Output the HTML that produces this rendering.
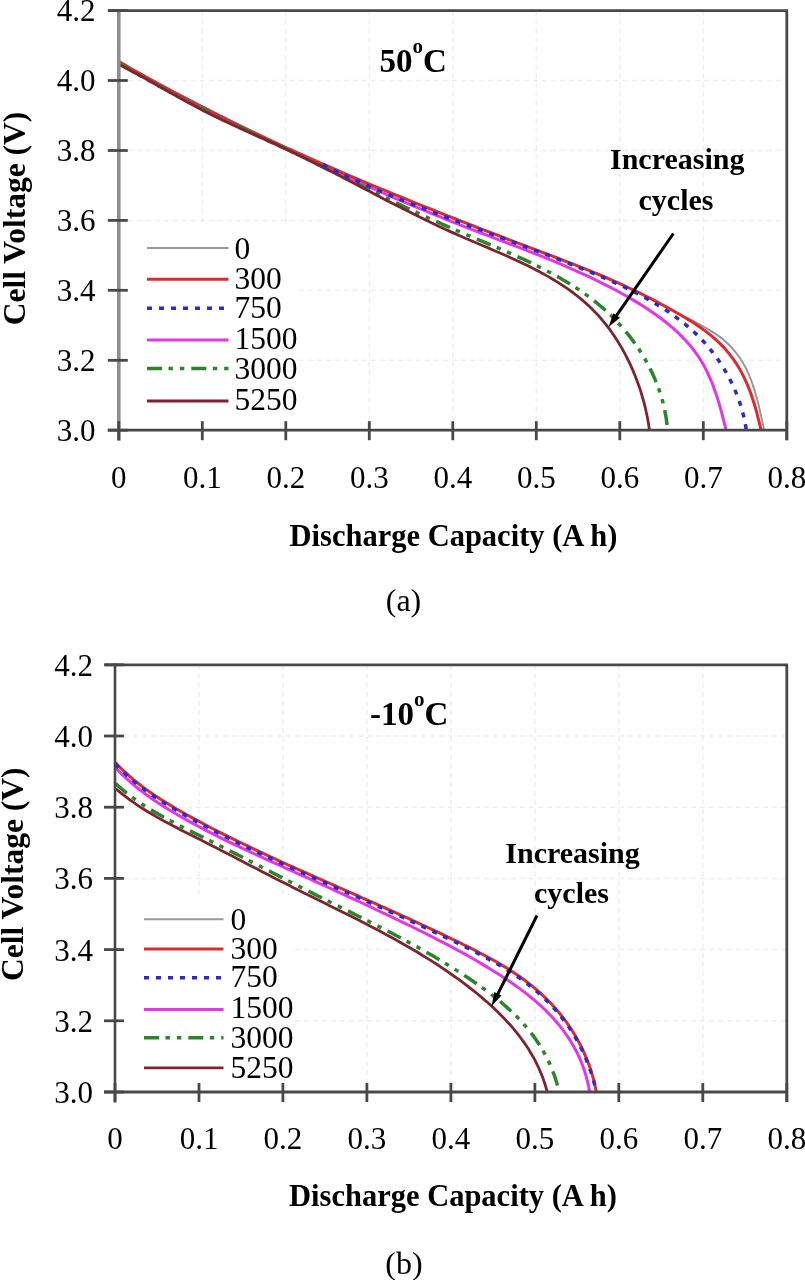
<!DOCTYPE html>
<html><head><meta charset="utf-8"><style>
html,body{margin:0;padding:0;background:#fff;width:805px;height:1280px;overflow:hidden;font-family:"Liberation Serif",serif;}
svg{display:block;filter:blur(0.7px);}
</style></head><body>
<svg width="805" height="1280" viewBox="0 0 805 1280">
<rect width="805" height="1280" fill="#fff"/>
<line x1="202.3" y1="10.6" x2="202.3" y2="430.2" stroke="#efefef" stroke-width="1.5" stroke-dasharray="5,4"/>
<line x1="285.8" y1="10.6" x2="285.8" y2="430.2" stroke="#efefef" stroke-width="1.5" stroke-dasharray="5,4"/>
<line x1="369.3" y1="10.6" x2="369.3" y2="430.2" stroke="#efefef" stroke-width="1.5" stroke-dasharray="5,4"/>
<line x1="452.8" y1="10.6" x2="452.8" y2="430.2" stroke="#efefef" stroke-width="1.5" stroke-dasharray="5,4"/>
<line x1="536.3" y1="10.6" x2="536.3" y2="430.2" stroke="#efefef" stroke-width="1.5" stroke-dasharray="5,4"/>
<line x1="619.8" y1="10.6" x2="619.8" y2="430.2" stroke="#efefef" stroke-width="1.5" stroke-dasharray="5,4"/>
<line x1="703.3" y1="10.6" x2="703.3" y2="430.2" stroke="#efefef" stroke-width="1.5" stroke-dasharray="5,4"/>
<line x1="118.8" y1="80.5" x2="786.8" y2="80.5" stroke="#efefef" stroke-width="1.5" stroke-dasharray="5,4"/>
<line x1="118.8" y1="150.5" x2="786.8" y2="150.5" stroke="#efefef" stroke-width="1.5" stroke-dasharray="5,4"/>
<line x1="118.8" y1="220.4" x2="786.8" y2="220.4" stroke="#efefef" stroke-width="1.5" stroke-dasharray="5,4"/>
<line x1="118.8" y1="290.3" x2="786.8" y2="290.3" stroke="#efefef" stroke-width="1.5" stroke-dasharray="5,4"/>
<line x1="118.8" y1="360.3" x2="786.8" y2="360.3" stroke="#efefef" stroke-width="1.5" stroke-dasharray="5,4"/>
<line x1="199.0" y1="664.8" x2="199.0" y2="1092.0" stroke="#efefef" stroke-width="1.5" stroke-dasharray="5,4"/>
<line x1="282.9" y1="664.8" x2="282.9" y2="1092.0" stroke="#efefef" stroke-width="1.5" stroke-dasharray="5,4"/>
<line x1="366.9" y1="664.8" x2="366.9" y2="1092.0" stroke="#efefef" stroke-width="1.5" stroke-dasharray="5,4"/>
<line x1="450.9" y1="664.8" x2="450.9" y2="1092.0" stroke="#efefef" stroke-width="1.5" stroke-dasharray="5,4"/>
<line x1="534.9" y1="664.8" x2="534.9" y2="1092.0" stroke="#efefef" stroke-width="1.5" stroke-dasharray="5,4"/>
<line x1="618.8" y1="664.8" x2="618.8" y2="1092.0" stroke="#efefef" stroke-width="1.5" stroke-dasharray="5,4"/>
<line x1="702.8" y1="664.8" x2="702.8" y2="1092.0" stroke="#efefef" stroke-width="1.5" stroke-dasharray="5,4"/>
<line x1="115.0" y1="736.0" x2="786.8" y2="736.0" stroke="#efefef" stroke-width="1.5" stroke-dasharray="5,4"/>
<line x1="115.0" y1="807.2" x2="786.8" y2="807.2" stroke="#efefef" stroke-width="1.5" stroke-dasharray="5,4"/>
<line x1="115.0" y1="878.4" x2="786.8" y2="878.4" stroke="#efefef" stroke-width="1.5" stroke-dasharray="5,4"/>
<line x1="115.0" y1="949.6" x2="786.8" y2="949.6" stroke="#efefef" stroke-width="1.5" stroke-dasharray="5,4"/>
<line x1="115.0" y1="1020.8" x2="786.8" y2="1020.8" stroke="#efefef" stroke-width="1.5" stroke-dasharray="5,4"/>
<rect x="126" y="226" width="172" height="196" fill="#fff"/>
<rect x="122" y="896" width="173" height="187" fill="#fff"/>
<path d="M119.0,63.0 L120.8,64.0 L122.6,65.0 L124.4,66.1 L126.2,67.1 L128.1,68.1 L129.9,69.1 L131.7,70.1 L133.5,71.2 L135.3,72.2 L137.1,73.2 L138.9,74.2 L140.8,75.2 L142.6,76.2 L144.4,77.2 L146.2,78.2 L148.0,79.2 L149.9,80.2 L151.7,81.2 L153.5,82.2 L155.3,83.2 L157.2,84.2 L159.0,85.2 L160.8,86.2 L162.7,87.2 L164.5,88.1 L166.3,89.1 L168.1,90.1 L170.0,91.1 L171.8,92.1 L173.6,93.0 L175.5,94.0 L177.3,95.0 L179.2,96.0 L181.0,96.9 L182.8,97.9 L184.7,98.9 L186.5,99.8 L188.4,100.8 L190.2,101.8 L192.0,102.7 L193.9,103.7 L195.7,104.6 L197.6,105.6 L199.4,106.5 L201.3,107.5 L203.1,108.4 L205.0,109.4 L206.8,110.3 L208.7,111.3 L210.5,112.2 L212.4,113.1 L214.2,114.1 L216.1,115.0 L217.9,116.0 L219.8,116.9 L221.6,117.8 L223.5,118.7 L225.4,119.7 L227.2,120.6 L229.1,121.5 L230.9,122.5 L232.8,123.4 L234.7,124.3 L236.5,125.2 L238.4,126.1 L240.2,127.0 L242.1,128.0 L244.0,128.9 L245.8,129.8 L247.7,130.7 L249.6,131.6 L251.4,132.5 L253.3,133.4 L255.2,134.3 L257.1,135.2 L258.9,136.1 L260.8,137.0 L262.7,137.9 L264.5,138.8 L266.4,139.7 L268.3,140.6 L270.2,141.5 L272.0,142.4 L273.9,143.3 L275.8,144.2 L277.7,145.1 L279.6,145.9 L281.4,146.8 L283.3,147.7 L285.2,148.6 L287.1,149.5 L289.0,150.3 L290.8,151.2 L292.7,152.1 L294.6,153.0 L296.5,153.8 L298.4,154.7 L300.3,155.6 L302.2,156.5 L304.0,157.3 L305.9,158.2 L307.8,159.0 L309.7,159.9 L311.6,160.8 L313.5,161.6 L315.4,162.5 L317.3,163.4 L319.2,164.2 L321.1,165.1 L323.0,165.9 L324.8,166.8 L326.7,167.6 L328.6,168.5 L330.5,169.3 L332.4,170.2 L334.3,171.0 L336.2,171.9 L338.1,172.7 L340.0,173.5" fill="none" stroke="#2a2ad0" stroke-width="3.5" stroke-dasharray="5,7" stroke-linejoin="round"/>
<path d="M119.0,62.6 L124.4,65.6 L129.8,68.5 L135.2,71.5 L140.6,74.4 L146.1,77.3 L151.5,80.2 L156.9,83.1 L162.4,86.0 L167.8,88.9 L173.2,91.8 L178.7,94.6 L184.2,97.5 L189.6,100.3 L195.1,103.2 L200.6,106.0 L206.0,108.8 L211.5,111.6 L217.0,114.4 L222.5,117.2 L228.0,120.0 L233.5,122.8 L239.0,125.6 L244.5,128.3 L250.0,131.0 L255.5,133.8 L261.1,136.5 L266.6,139.2 L272.1,141.9 L277.7,144.6 L283.2,147.3 L288.8,149.9 L294.3,152.6 L299.9,155.2 L305.5,157.9 L311.0,160.5 L316.6,163.1 L322.2,165.7 L327.8,168.3 L333.4,170.9 L339.0,173.4 L344.6,176.0 L350.2,178.5 L355.8,181.0 L361.5,183.5 L367.1,186.0 L372.7,188.5 L378.4,191.0 L384.0,193.4 L389.7,195.9 L395.4,198.3 L401.0,200.7 L406.7,203.1 L412.4,205.5 L418.1,207.9 L423.8,210.2 L429.5,212.6 L435.2,214.9 L440.9,217.2 L446.6,219.5 L452.3,221.8 L458.1,224.1 L463.8,226.3 L469.5,228.6 L475.3,230.8 L481.0,233.0 L486.8,235.2 L492.6,237.4 L498.3,239.6 L504.1,241.8 L509.9,244.0 L515.6,246.2 L521.4,248.4 L527.1,250.6 L532.8,252.8 L538.6,255.1 L544.3,257.4 L550.0,259.7 L555.7,262.1 L561.3,264.4 L567.0,266.9 L572.6,269.3 L578.2,271.8 L583.8,274.3 L589.4,276.9 L594.9,279.6 L600.4,282.3 L605.9,285.1 L611.4,287.9 L616.8,290.8 L622.2,293.7 L627.6,296.8 L632.9,299.9 L638.2,303.1 L643.4,306.3 L648.6,309.7 L653.7,313.2 L658.7,316.8 L663.6,320.5 L668.4,324.3 L673.1,328.2 L677.6,332.3 L681.9,336.6 L686.1,341.0 L690.1,345.6 L693.9,350.3 L697.5,355.2 L700.8,360.3 L703.9,365.6 L706.8,371.1 L709.4,376.8 L711.9,382.5 L714.1,388.4 L716.2,394.4 L718.1,400.3 L719.9,406.4 L721.6,412.4 L723.1,418.3 L724.6,424.2 L726.0,430.0" fill="none" stroke="#e535ea" stroke-width="3.0" stroke-linejoin="round"/>
<path d="M119.0,61.6 L124.6,64.9 L130.2,68.1 L135.8,71.3 L141.5,74.5 L147.1,77.6 L152.8,80.7 L158.4,83.9 L164.1,86.9 L169.8,90.0 L175.5,93.1 L181.2,96.1 L186.9,99.1 L192.6,102.1 L198.4,105.0 L204.1,108.0 L209.9,110.9 L215.6,113.8 L221.4,116.7 L227.2,119.6 L233.0,122.4 L238.8,125.2 L244.6,128.0 L250.4,130.8 L256.2,133.6 L262.0,136.4 L267.9,139.1 L273.7,141.9 L279.6,144.6 L285.4,147.3 L291.3,150.0 L297.2,152.6 L303.1,155.3 L309.0,157.9 L314.9,160.5 L320.8,163.2 L326.7,165.8 L332.6,168.3 L338.5,170.9 L344.4,173.5 L350.4,176.0 L356.3,178.5 L362.3,181.1 L368.2,183.6 L374.2,186.1 L380.1,188.5 L386.1,191.0 L392.1,193.5 L398.0,195.9 L404.0,198.4 L410.0,200.8 L416.0,203.2 L422.0,205.6 L428.0,208.0 L433.9,210.4 L440.0,212.8 L446.0,215.2 L452.0,217.5 L458.0,219.9 L464.0,222.3 L470.0,224.6 L476.0,226.9 L482.0,229.3 L488.1,231.6 L494.1,233.9 L500.1,236.2 L506.1,238.5 L512.2,240.8 L518.2,243.1 L524.2,245.4 L530.3,247.7 L536.3,250.0 L542.3,252.2 L548.4,254.5 L554.4,256.8 L560.4,259.1 L566.4,261.4 L572.4,263.8 L578.4,266.1 L584.4,268.5 L590.4,270.9 L596.3,273.4 L602.3,275.9 L608.2,278.5 L614.1,281.1 L619.9,283.7 L625.8,286.5 L631.6,289.3 L637.4,292.2 L643.1,295.1 L648.8,298.1 L654.6,301.1 L660.3,304.2 L666.0,307.2 L671.8,310.2 L677.5,313.2 L683.3,316.1 L689.1,319.0 L694.9,321.9 L700.6,324.9 L706.2,328.0 L711.7,331.3 L717.0,334.8 L722.0,338.6 L726.8,342.7 L731.2,347.0 L735.3,351.8 L739.1,356.8 L742.6,362.1 L745.6,367.8 L748.4,373.6 L750.9,379.7 L753.1,385.9 L755.1,392.2 L756.9,398.6 L758.6,405.1 L760.1,411.4 L761.5,417.8 L762.8,424.0 L764.1,430.0" fill="none" stroke="#999999" stroke-width="2.0" stroke-linejoin="round"/>
<path d="M119.0,61.6 L124.6,64.9 L130.1,68.1 L135.7,71.2 L141.3,74.4 L146.9,77.5 L152.5,80.6 L158.1,83.7 L163.8,86.8 L169.4,89.8 L175.1,92.9 L180.7,95.9 L186.4,98.9 L192.1,101.8 L197.8,104.8 L203.5,107.7 L209.2,110.6 L214.9,113.5 L220.7,116.4 L226.4,119.2 L232.2,122.0 L237.9,124.8 L243.7,127.6 L249.5,130.4 L255.2,133.2 L261.0,135.9 L266.8,138.7 L272.7,141.4 L278.5,144.1 L284.3,146.8 L290.1,149.4 L296.0,152.1 L301.8,154.7 L307.7,157.3 L313.5,159.9 L319.4,162.5 L325.3,165.1 L331.1,167.7 L337.0,170.2 L342.9,172.8 L348.8,175.3 L354.7,177.8 L360.6,180.3 L366.5,182.8 L372.4,185.3 L378.3,187.8 L384.3,190.2 L390.2,192.7 L396.1,195.1 L402.1,197.5 L408.0,199.9 L413.9,202.4 L419.9,204.8 L425.8,207.1 L431.8,209.5 L437.8,211.9 L443.7,214.3 L449.7,216.6 L455.6,219.0 L461.6,221.3 L467.6,223.6 L473.6,226.0 L479.5,228.3 L485.5,230.6 L491.5,232.9 L497.5,235.2 L503.4,237.5 L509.4,239.8 L515.4,242.1 L521.4,244.4 L527.4,246.6 L533.3,248.9 L539.3,251.2 L545.3,253.5 L551.3,255.7 L557.3,258.0 L563.2,260.3 L569.2,262.6 L575.1,264.9 L581.1,267.3 L587.0,269.7 L593.0,272.1 L598.9,274.5 L604.8,277.0 L610.7,279.6 L616.5,282.2 L622.4,284.8 L628.2,287.5 L634.1,290.3 L639.9,293.1 L645.6,296.0 L651.4,298.9 L657.1,301.9 L662.8,305.0 L668.5,308.1 L674.1,311.3 L679.7,314.5 L685.3,317.8 L690.8,321.1 L696.2,324.6 L701.5,328.2 L706.6,331.9 L711.5,335.8 L716.3,340.0 L720.8,344.4 L725.1,348.9 L729.1,353.7 L732.9,358.7 L736.5,363.9 L739.8,369.3 L742.8,374.9 L745.6,380.7 L748.2,386.6 L750.5,392.6 L752.6,398.8 L754.6,405.0 L756.4,411.3 L758.0,417.6 L759.6,423.8 L761.0,430.0" fill="none" stroke="#dd2a2e" stroke-width="3.0" stroke-linejoin="round"/>
<path d="M119.0,63.6 L124.0,66.4 L129.0,69.3 L134.0,72.1 L139.0,74.9 L144.0,77.8 L149.0,80.5 L154.1,83.3 L159.1,86.1 L164.2,88.8 L169.2,91.5 L174.3,94.2 L179.4,96.9 L184.5,99.6 L189.6,102.2 L194.8,104.9 L199.9,107.5 L205.1,110.1 L210.2,112.6 L215.4,115.2 L220.6,117.7 L225.8,120.3 L231.0,122.8 L236.2,125.3 L241.4,127.7 L246.6,130.2 L251.8,132.7 L257.1,135.2 L262.3,137.6 L267.5,140.1 L272.7,142.6 L277.9,145.0 L283.1,147.5 L288.3,150.0 L293.5,152.5 L298.6,155.0 L303.8,157.5 L309.0,160.0 L314.1,162.5 L319.2,165.0 L324.4,167.6 L329.5,170.1 L334.6,172.6 L339.8,175.1 L344.9,177.7 L350.0,180.2 L355.1,182.7 L360.3,185.3 L365.4,187.8 L370.5,190.3 L375.7,192.8 L380.8,195.3 L385.9,197.8 L391.1,200.3 L396.3,202.8 L401.4,205.3 L406.6,207.8 L411.8,210.2 L417.0,212.6 L422.2,215.1 L427.5,217.5 L432.7,219.9 L438.0,222.2 L443.2,224.6 L448.5,226.9 L453.9,229.2 L459.2,231.5 L464.5,233.8 L469.9,236.1 L475.3,238.4 L480.6,240.6 L486.0,242.9 L491.4,245.1 L496.7,247.4 L502.1,249.7 L507.4,252.1 L512.7,254.4 L518.0,256.8 L523.3,259.2 L528.5,261.7 L533.7,264.2 L538.9,266.7 L544.0,269.3 L549.1,272.0 L554.1,274.7 L559.1,277.5 L564.1,280.4 L568.9,283.3 L573.7,286.3 L578.5,289.4 L583.1,292.6 L587.7,295.9 L592.2,299.3 L596.7,302.8 L601.0,306.5 L605.3,310.2 L609.4,314.0 L613.5,318.0 L617.4,322.1 L621.3,326.3 L625.0,330.6 L628.7,335.1 L632.1,339.6 L635.5,344.2 L638.8,349.0 L641.8,353.8 L644.8,358.7 L647.6,363.8 L650.2,368.9 L652.7,374.1 L655.0,379.3 L657.2,384.7 L659.2,390.1 L661.0,395.6 L662.6,401.2 L664.0,406.9 L665.2,412.6 L666.2,418.3 L667.0,424.2 L667.6,430.1" fill="none" stroke="#2a862a" stroke-width="3.5" stroke-dasharray="15,6.5,4.4,7,4.4,7" stroke-linejoin="round"/>
<path d="M119.0,64.4 L124.0,67.0 L129.0,69.7 L133.9,72.4 L138.9,75.1 L143.8,77.8 L148.7,80.5 L153.6,83.3 L158.5,86.1 L163.4,88.8 L168.3,91.6 L173.2,94.3 L178.1,97.1 L183.0,99.8 L188.0,102.5 L192.9,105.1 L197.9,107.8 L202.9,110.4 L207.9,112.9 L213.0,115.5 L218.0,117.9 L223.1,120.4 L228.2,122.8 L233.4,125.2 L238.5,127.6 L243.7,129.9 L248.8,132.3 L254.0,134.6 L259.1,136.9 L264.3,139.3 L269.5,141.6 L274.6,143.9 L279.8,146.3 L284.9,148.7 L290.0,151.1 L295.1,153.5 L300.1,155.9 L305.2,158.4 L310.2,160.9 L315.2,163.4 L320.2,165.9 L325.2,168.4 L330.2,171.0 L335.2,173.5 L340.2,176.1 L345.1,178.7 L350.1,181.2 L355.0,183.8 L360.0,186.4 L364.9,189.0 L369.9,191.6 L374.8,194.2 L379.8,196.8 L384.7,199.4 L389.7,201.9 L394.7,204.5 L399.7,207.1 L404.7,209.6 L409.7,212.1 L414.7,214.6 L419.7,217.1 L424.8,219.6 L429.9,222.1 L435.0,224.5 L440.1,226.9 L445.2,229.3 L450.4,231.6 L455.6,233.9 L460.8,236.2 L466.0,238.5 L471.3,240.7 L476.5,243.0 L481.8,245.2 L487.1,247.4 L492.3,249.7 L497.6,252.0 L502.8,254.2 L508.0,256.5 L513.2,258.9 L518.4,261.2 L523.5,263.7 L528.5,266.1 L533.6,268.7 L538.6,271.3 L543.5,273.9 L548.3,276.6 L553.1,279.5 L557.9,282.4 L562.5,285.4 L567.1,288.4 L571.6,291.6 L576.0,295.0 L580.3,298.4 L584.4,301.9 L588.5,305.6 L592.5,309.5 L596.4,313.4 L600.1,317.5 L603.7,321.8 L607.2,326.2 L610.6,330.7 L613.8,335.3 L616.9,340.1 L619.9,344.9 L622.8,349.8 L625.5,354.9 L628.1,360.0 L630.6,365.2 L632.9,370.4 L635.1,375.7 L637.1,381.0 L639.1,386.4 L640.9,391.8 L642.5,397.3 L644.0,402.7 L645.4,408.2 L646.6,413.7 L647.7,419.1 L648.6,424.6 L649.4,430.0" fill="none" stroke="#7d2430" stroke-width="2.8" stroke-linejoin="round"/>
<path d="M323.0,164.6 L326.9,166.6 L330.9,168.5 L334.9,170.5 L338.9,172.4 L342.9,174.3 L346.8,176.2 L350.8,178.0 L354.8,179.9 L358.9,181.7 L362.9,183.5 L366.9,185.3 L370.9,187.0 L374.9,188.8 L379.0,190.5 L383.0,192.2 L387.0,193.9 L391.1,195.6 L395.1,197.3 L399.2,198.9 L403.2,200.6 L407.3,202.2 L411.4,203.8 L415.4,205.5 L419.5,207.1 L423.6,208.6 L427.7,210.2 L431.8,211.8 L435.8,213.4 L439.9,214.9 L444.0,216.5 L448.1,218.0 L452.2,219.6 L456.3,221.1 L460.4,222.6 L464.5,224.1 L468.6,225.7 L472.7,227.2 L476.8,228.7 L480.9,230.2 L485.0,231.7 L489.1,233.2 L493.2,234.8 L497.3,236.3 L501.5,237.8 L505.6,239.3 L509.7,240.8 L513.8,242.4 L517.9,243.9 L522.0,245.4 L526.1,247.0 L530.2,248.5 L534.3,250.1 L538.5,251.6 L542.6,253.2 L546.7,254.7 L550.8,256.3 L554.9,257.9 L559.0,259.5 L563.1,261.1 L567.2,262.7 L571.3,264.4 L575.4,266.0 L579.5,267.7 L583.6,269.3 L587.7,271.0 L591.8,272.7 L595.9,274.4 L600.0,276.2 L604.0,277.9 L608.1,279.7 L612.2,281.5 L616.2,283.3 L620.2,285.2 L624.2,287.0 L628.2,289.0 L632.1,290.9 L636.1,292.9 L640.0,294.9 L643.8,297.0 L647.7,299.1 L651.5,301.2 L655.2,303.5 L658.9,305.7 L662.6,308.0 L666.2,310.4 L669.8,312.8 L673.4,315.3 L676.8,317.8 L680.3,320.4 L683.6,323.1 L687.0,325.8 L690.2,328.6 L693.4,331.5 L696.5,334.4 L699.6,337.4 L702.5,340.5 L705.5,343.7 L708.3,346.9 L711.0,350.3 L713.7,353.7 L716.3,357.2 L718.8,360.7 L721.3,364.4 L723.6,368.1 L725.8,371.8 L728.0,375.7 L730.0,379.6 L732.0,383.5 L733.8,387.5 L735.6,391.6 L737.2,395.7 L738.8,399.8 L740.2,404.0 L741.5,408.3 L742.7,412.6 L743.8,416.9 L744.7,421.2 L745.6,425.6 L746.3,430.0" fill="none" stroke="#2a2ad0" stroke-width="3.5" stroke-dasharray="5,7" stroke-linejoin="round"/>
<path d="M116.0,788.9 L119.5,791.8 L123.0,794.7 L126.6,797.4 L130.2,800.1 L133.9,802.7 L137.7,805.3 L141.4,807.8 L145.3,810.2 L149.1,812.5 L153.0,814.8 L156.9,817.1 L160.8,819.3 L164.8,821.5 L168.8,823.6 L172.8,825.7 L176.8,827.8 L180.9,829.9 L184.9,831.9 L188.9,834.0 L193.0,836.0 L197.0,838.1 L201.1,840.1 L205.1,842.2 L209.1,844.2 L213.1,846.3 L217.2,848.3 L221.2,850.4 L225.2,852.5 L229.2,854.6 L233.2,856.6 L237.2,858.7 L241.2,860.8 L245.2,862.9 L249.2,865.0 L253.2,867.0 L257.2,869.1 L261.2,871.2 L265.2,873.3 L269.2,875.3 L273.3,877.4 L277.3,879.5 L281.3,881.5 L285.4,883.6 L289.4,885.6 L293.4,887.7 L297.5,889.7 L301.6,891.7 L305.6,893.8 L309.7,895.8 L313.8,897.8 L317.9,899.8 L321.9,901.8 L326.0,903.8 L330.1,905.9 L334.2,907.9 L338.3,909.9 L342.3,911.9 L346.4,914.0 L350.5,916.0 L354.5,918.1 L358.6,920.1 L362.7,922.2 L366.7,924.3 L370.8,926.4 L374.8,928.5 L378.8,930.6 L382.8,932.8 L386.8,934.9 L390.8,937.1 L394.8,939.3 L398.8,941.5 L402.7,943.7 L406.6,946.0 L410.6,948.2 L414.5,950.5 L418.4,952.8 L422.2,955.2 L426.1,957.6 L429.9,959.9 L433.7,962.4 L437.5,964.8 L441.3,967.3 L445.0,969.8 L448.7,972.4 L452.4,975.0 L456.1,977.6 L459.8,980.2 L463.4,982.9 L467.0,985.6 L470.5,988.4 L474.1,991.2 L477.6,994.0 L481.1,996.9 L484.5,999.9 L487.9,1002.8 L491.3,1005.9 L494.6,1008.9 L497.8,1012.0 L501.0,1015.2 L504.2,1018.4 L507.2,1021.7 L510.3,1025.0 L513.2,1028.4 L516.1,1031.9 L518.8,1035.4 L521.5,1039.0 L524.2,1042.6 L526.7,1046.3 L529.1,1050.1 L531.4,1054.0 L533.7,1057.9 L535.8,1061.9 L537.8,1066.0 L539.7,1070.1 L541.4,1074.3 L543.1,1078.6 L544.6,1083.0 L546.0,1087.5 L547.3,1092.1" fill="none" stroke="#7d2430" stroke-width="2.8" stroke-linejoin="round"/>
<path d="M115.5,783.5 L119.0,786.6 L122.5,789.7 L126.1,792.6 L129.8,795.4 L133.5,798.2 L137.3,800.9 L141.1,803.5 L145.0,806.0 L148.9,808.5 L152.9,810.9 L156.9,813.3 L160.9,815.6 L164.9,817.8 L169.0,820.0 L173.1,822.2 L177.2,824.4 L181.4,826.5 L185.5,828.6 L189.7,830.7 L193.8,832.7 L198.0,834.8 L202.2,836.9 L206.3,839.0 L210.5,841.0 L214.6,843.1 L218.8,845.2 L222.9,847.3 L227.1,849.4 L231.2,851.5 L235.4,853.6 L239.5,855.7 L243.6,857.8 L247.8,860.0 L251.9,862.1 L256.0,864.2 L260.1,866.3 L264.3,868.5 L268.4,870.6 L272.5,872.7 L276.7,874.8 L280.8,877.0 L284.9,879.1 L289.1,881.2 L293.2,883.3 L297.3,885.4 L301.5,887.6 L305.6,889.7 L309.8,891.8 L313.9,893.9 L318.1,896.0 L322.2,898.0 L326.4,900.1 L330.5,902.2 L334.7,904.3 L338.9,906.4 L343.0,908.4 L347.2,910.5 L351.4,912.6 L355.5,914.7 L359.7,916.8 L363.9,918.9 L368.0,921.0 L372.2,923.1 L376.3,925.2 L380.5,927.4 L384.6,929.5 L388.7,931.6 L392.9,933.8 L397.0,936.0 L401.1,938.2 L405.2,940.4 L409.3,942.6 L413.4,944.8 L417.4,947.1 L421.5,949.4 L425.6,951.7 L429.6,954.0 L433.6,956.3 L437.6,958.7 L441.6,961.1 L445.6,963.5 L449.5,965.9 L453.5,968.4 L457.4,970.9 L461.3,973.4 L465.2,976.0 L469.1,978.5 L473.0,981.2 L476.8,983.8 L480.6,986.5 L484.4,989.2 L488.1,992.0 L491.8,994.8 L495.5,997.7 L499.1,1000.6 L502.6,1003.5 L506.1,1006.6 L509.5,1009.7 L512.9,1012.8 L516.2,1016.0 L519.4,1019.3 L522.5,1022.7 L525.5,1026.1 L528.5,1029.6 L531.3,1033.2 L534.1,1036.9 L536.7,1040.7 L539.3,1044.5 L541.7,1048.5 L544.0,1052.5 L546.2,1056.6 L548.3,1060.7 L550.2,1065.0 L552.0,1069.3 L553.7,1073.7 L555.3,1078.2 L556.7,1082.7 L558.0,1087.3 L559.1,1092.0" fill="none" stroke="#2a862a" stroke-width="3.5" stroke-dasharray="15,6.5,4.4,7,4.4,7" stroke-linejoin="round"/>
<path d="M115.4,767.5 L118.9,771.2 L122.4,774.7 L126.0,778.1 L129.7,781.4 L133.4,784.6 L137.2,787.8 L141.1,790.8 L145.1,793.8 L149.1,796.7 L153.1,799.5 L157.2,802.3 L161.4,805.0 L165.6,807.6 L169.8,810.2 L174.1,812.7 L178.3,815.2 L182.7,817.7 L187.0,820.1 L191.3,822.6 L195.7,824.9 L200.1,827.3 L204.5,829.6 L208.9,831.9 L213.3,834.1 L217.8,836.4 L222.2,838.6 L226.7,840.8 L231.2,842.9 L235.7,845.1 L240.2,847.2 L244.7,849.3 L249.2,851.4 L253.7,853.5 L258.2,855.6 L262.8,857.7 L267.3,859.8 L271.8,861.8 L276.4,863.9 L280.9,865.9 L285.4,868.0 L290.0,870.0 L294.5,872.1 L299.0,874.1 L303.5,876.2 L308.0,878.2 L312.6,880.3 L317.1,882.3 L321.6,884.4 L326.1,886.4 L330.6,888.5 L335.1,890.6 L339.6,892.6 L344.1,894.7 L348.6,896.8 L353.1,898.9 L357.6,901.0 L362.1,903.0 L366.6,905.1 L371.1,907.2 L375.5,909.3 L380.0,911.5 L384.5,913.6 L389.0,915.7 L393.5,917.8 L397.9,920.0 L402.4,922.1 L406.9,924.3 L411.4,926.4 L415.8,928.6 L420.3,930.8 L424.7,933.0 L429.2,935.3 L433.6,937.5 L438.0,939.8 L442.4,942.1 L446.8,944.4 L451.2,946.7 L455.6,949.1 L460.0,951.5 L464.4,953.9 L468.7,956.3 L473.0,958.8 L477.4,961.3 L481.7,963.9 L485.9,966.4 L490.2,969.0 L494.5,971.7 L498.7,974.3 L502.9,977.0 L507.1,979.8 L511.2,982.6 L515.3,985.5 L519.3,988.4 L523.3,991.4 L527.3,994.4 L531.1,997.5 L534.9,1000.7 L538.6,1003.9 L542.2,1007.2 L545.8,1010.6 L549.2,1014.0 L552.6,1017.6 L555.8,1021.2 L559.0,1024.9 L562.0,1028.7 L564.9,1032.6 L567.7,1036.6 L570.3,1040.7 L572.9,1044.9 L575.2,1049.2 L577.5,1053.5 L579.6,1058.0 L581.5,1062.5 L583.3,1067.2 L584.9,1072.0 L586.3,1076.8 L587.6,1081.8 L588.7,1086.9 L589.6,1092.0" fill="none" stroke="#e535ea" stroke-width="3.0" stroke-linejoin="round"/>
<path d="M115.4,762.6 L118.9,766.2 L122.5,769.8 L126.2,773.2 L130.0,776.6 L133.8,779.9 L137.7,783.0 L141.7,786.1 L145.7,789.1 L149.8,792.0 L154.0,794.9 L158.1,797.6 L162.4,800.4 L166.7,803.0 L171.0,805.6 L175.3,808.2 L179.7,810.7 L184.1,813.2 L188.5,815.7 L192.9,818.1 L197.4,820.5 L201.8,822.9 L206.3,825.3 L210.8,827.7 L215.3,830.0 L219.8,832.3 L224.3,834.6 L228.8,836.8 L233.3,839.1 L237.9,841.3 L242.4,843.5 L247.0,845.7 L251.5,847.9 L256.1,850.1 L260.7,852.2 L265.3,854.4 L269.9,856.5 L274.5,858.6 L279.1,860.8 L283.7,862.9 L288.3,865.0 L292.9,867.0 L297.5,869.1 L302.1,871.2 L306.7,873.2 L311.4,875.3 L316.0,877.4 L320.6,879.4 L325.2,881.4 L329.9,883.5 L334.5,885.5 L339.1,887.6 L343.7,889.6 L348.3,891.6 L353.0,893.7 L357.6,895.7 L362.2,897.8 L366.8,899.8 L371.4,901.9 L376.0,903.9 L380.6,906.0 L385.2,908.0 L389.8,910.1 L394.5,912.2 L399.1,914.3 L403.7,916.3 L408.3,918.4 L412.8,920.6 L417.4,922.7 L422.0,924.8 L426.6,926.9 L431.2,929.1 L435.8,931.2 L440.4,933.4 L445.0,935.6 L449.5,937.8 L454.1,940.0 L458.7,942.2 L463.2,944.5 L467.8,946.7 L472.4,949.0 L476.9,951.3 L481.4,953.7 L485.9,956.1 L490.4,958.5 L494.8,961.0 L499.2,963.5 L503.5,966.1 L507.8,968.7 L512.1,971.5 L516.2,974.2 L520.4,977.1 L524.4,980.0 L528.4,983.1 L532.3,986.2 L536.1,989.4 L539.9,992.7 L543.5,996.1 L547.1,999.5 L550.6,1003.1 L553.9,1006.7 L557.2,1010.5 L560.4,1014.3 L563.5,1018.2 L566.4,1022.2 L569.3,1026.3 L572.1,1030.5 L574.7,1034.8 L577.2,1039.1 L579.6,1043.5 L581.9,1048.0 L584.0,1052.6 L586.0,1057.3 L587.9,1062.0 L589.7,1066.8 L591.3,1071.7 L592.8,1076.7 L594.1,1081.7 L595.3,1086.9 L596.4,1092.1" fill="none" stroke="#999999" stroke-width="2.0" stroke-linejoin="round"/>
<path d="M115.4,762.6 L118.9,766.2 L122.5,769.8 L126.2,773.2 L130.0,776.6 L133.8,779.9 L137.7,783.0 L141.7,786.1 L145.7,789.1 L149.8,792.0 L154.0,794.9 L158.1,797.6 L162.4,800.4 L166.7,803.0 L171.0,805.6 L175.3,808.2 L179.7,810.7 L184.1,813.2 L188.5,815.7 L192.9,818.1 L197.4,820.5 L201.8,822.9 L206.3,825.3 L210.8,827.7 L215.3,830.0 L219.8,832.3 L224.3,834.6 L228.8,836.8 L233.3,839.1 L237.9,841.3 L242.4,843.5 L247.0,845.7 L251.5,847.9 L256.1,850.1 L260.7,852.2 L265.3,854.4 L269.9,856.5 L274.5,858.6 L279.1,860.8 L283.7,862.9 L288.3,865.0 L292.9,867.0 L297.5,869.1 L302.1,871.2 L306.7,873.2 L311.4,875.3 L316.0,877.4 L320.6,879.4 L325.2,881.4 L329.9,883.5 L334.5,885.5 L339.1,887.6 L343.7,889.6 L348.3,891.6 L353.0,893.7 L357.6,895.7 L362.2,897.8 L366.8,899.8 L371.4,901.9 L376.0,903.9 L380.6,906.0 L385.2,908.0 L389.8,910.1 L394.5,912.2 L399.1,914.3 L403.7,916.3 L408.3,918.4 L412.8,920.6 L417.4,922.7 L422.0,924.8 L426.6,926.9 L431.2,929.1 L435.8,931.2 L440.4,933.4 L445.0,935.6 L449.5,937.8 L454.1,940.0 L458.7,942.2 L463.2,944.5 L467.8,946.7 L472.4,949.0 L476.9,951.3 L481.4,953.7 L485.9,956.1 L490.4,958.5 L494.8,961.0 L499.2,963.5 L503.5,966.1 L507.8,968.7 L512.1,971.5 L516.2,974.2 L520.4,977.1 L524.4,980.0 L528.4,983.1 L532.3,986.2 L536.1,989.4 L539.9,992.7 L543.5,996.1 L547.1,999.5 L550.6,1003.1 L553.9,1006.7 L557.2,1010.5 L560.4,1014.3 L563.5,1018.2 L566.4,1022.2 L569.3,1026.3 L572.1,1030.5 L574.7,1034.8 L577.2,1039.1 L579.6,1043.5 L581.9,1048.0 L584.0,1052.6 L586.0,1057.3 L587.9,1062.0 L589.7,1066.8 L591.3,1071.7 L592.8,1076.7 L594.1,1081.7 L595.3,1086.9 L596.4,1092.1" fill="none" stroke="#dd2a2e" stroke-width="3.0" stroke-linejoin="round"/>
<path d="M115.4,764.1 L118.9,767.7 L122.5,771.3 L126.2,774.7 L130.0,778.0 L133.8,781.3 L137.7,784.4 L141.7,787.5 L145.7,790.5 L149.7,793.4 L153.9,796.3 L158.1,799.0 L162.3,801.8 L166.5,804.4 L170.8,807.0 L175.2,809.6 L179.5,812.1 L183.9,814.6 L188.3,817.1 L192.7,819.5 L197.1,821.9 L201.6,824.3 L206.0,826.7 L210.5,829.0 L215.0,831.4 L219.5,833.7 L224.0,835.9 L228.5,838.2 L233.0,840.5 L237.5,842.7 L242.1,844.9 L246.6,847.1 L251.2,849.3 L255.7,851.4 L260.3,853.6 L264.9,855.7 L269.5,857.9 L274.0,860.0 L278.6,862.1 L283.2,864.2 L287.8,866.3 L292.4,868.3 L297.0,870.4 L301.6,872.5 L306.2,874.5 L310.9,876.6 L315.5,878.6 L320.1,880.7 L324.7,882.7 L329.3,884.7 L333.9,886.8 L338.5,888.8 L343.1,890.8 L347.8,892.9 L352.4,894.9 L357.0,896.9 L361.6,899.0 L366.2,901.0 L370.8,903.1 L375.4,905.1 L380.0,907.2 L384.6,909.2 L389.2,911.3 L393.8,913.4 L398.4,915.4 L403.0,917.5 L407.5,919.6 L412.1,921.7 L416.7,923.8 L421.3,925.9 L425.9,928.1 L430.4,930.2 L435.0,932.4 L439.6,934.5 L444.2,936.7 L448.7,938.9 L453.3,941.1 L457.8,943.3 L462.4,945.6 L466.9,947.8 L471.5,950.1 L476.0,952.4 L480.5,954.8 L485.0,957.1 L489.5,959.6 L493.9,962.0 L498.3,964.5 L502.6,967.1 L506.9,969.7 L511.2,972.4 L515.3,975.2 L519.5,978.0 L523.5,980.9 L527.5,983.9 L531.4,987.0 L535.3,990.1 L539.0,993.4 L542.7,996.7 L546.3,1000.2 L549.8,1003.7 L553.2,1007.3 L556.5,1011.0 L559.6,1014.8 L562.7,1018.7 L565.7,1022.7 L568.6,1026.7 L571.4,1030.9 L574.0,1035.1 L576.6,1039.5 L579.0,1043.9 L581.3,1048.4 L583.5,1052.9 L585.5,1057.6 L587.4,1062.3 L589.2,1067.1 L590.9,1072.0 L592.5,1076.9 L593.9,1081.9 L595.2,1086.9 L596.4,1092.1" fill="none" stroke="#2a2ad0" stroke-width="3.5" stroke-dasharray="5,7" stroke-linejoin="round"/>
<line x1="108.8" y1="10.6" x2="788.0" y2="10.6" stroke="#484848" stroke-width="2.8"/>
<line x1="786.8" y1="10.6" x2="786.8" y2="440.2" stroke="#484848" stroke-width="2.8"/>
<line x1="107.8" y1="430.2" x2="786.8" y2="430.2" stroke="#484848" stroke-width="2.8"/>
<line x1="118.8" y1="9.4" x2="118.8" y2="440.7" stroke="#8e8e8e" stroke-width="3.6"/>
<line x1="107.8" y1="10.6" x2="127.8" y2="10.6" stroke="#484848" stroke-width="2.8"/>
<text x="95.5" y="21.1" text-anchor="end" font-size="31" font-family="Liberation Serif, serif">4.2</text>
<line x1="107.8" y1="80.5" x2="127.8" y2="80.5" stroke="#484848" stroke-width="2.8"/>
<text x="95.5" y="91.0" text-anchor="end" font-size="31" font-family="Liberation Serif, serif">4.0</text>
<line x1="107.8" y1="150.5" x2="127.8" y2="150.5" stroke="#484848" stroke-width="2.8"/>
<text x="95.5" y="161.0" text-anchor="end" font-size="31" font-family="Liberation Serif, serif">3.8</text>
<line x1="107.8" y1="220.4" x2="127.8" y2="220.4" stroke="#484848" stroke-width="2.8"/>
<text x="95.5" y="230.9" text-anchor="end" font-size="31" font-family="Liberation Serif, serif">3.6</text>
<line x1="107.8" y1="290.3" x2="127.8" y2="290.3" stroke="#484848" stroke-width="2.8"/>
<text x="95.5" y="300.8" text-anchor="end" font-size="31" font-family="Liberation Serif, serif">3.4</text>
<line x1="107.8" y1="360.3" x2="127.8" y2="360.3" stroke="#484848" stroke-width="2.8"/>
<text x="95.5" y="370.8" text-anchor="end" font-size="31" font-family="Liberation Serif, serif">3.2</text>
<line x1="107.8" y1="430.2" x2="127.8" y2="430.2" stroke="#484848" stroke-width="2.8"/>
<text x="95.5" y="440.7" text-anchor="end" font-size="31" font-family="Liberation Serif, serif">3.0</text>
<line x1="118.8" y1="421.2" x2="118.8" y2="440.2" stroke="#484848" stroke-width="2.8"/>
<text x="118.8" y="487.5" text-anchor="middle" font-size="31" font-family="Liberation Serif, serif">0</text>
<line x1="202.3" y1="421.2" x2="202.3" y2="440.2" stroke="#484848" stroke-width="2.8"/>
<text x="202.3" y="487.5" text-anchor="middle" font-size="31" font-family="Liberation Serif, serif">0.1</text>
<line x1="285.8" y1="421.2" x2="285.8" y2="440.2" stroke="#484848" stroke-width="2.8"/>
<text x="285.8" y="487.5" text-anchor="middle" font-size="31" font-family="Liberation Serif, serif">0.2</text>
<line x1="369.3" y1="421.2" x2="369.3" y2="440.2" stroke="#484848" stroke-width="2.8"/>
<text x="369.3" y="487.5" text-anchor="middle" font-size="31" font-family="Liberation Serif, serif">0.3</text>
<line x1="452.8" y1="421.2" x2="452.8" y2="440.2" stroke="#484848" stroke-width="2.8"/>
<text x="452.8" y="487.5" text-anchor="middle" font-size="31" font-family="Liberation Serif, serif">0.4</text>
<line x1="536.3" y1="421.2" x2="536.3" y2="440.2" stroke="#484848" stroke-width="2.8"/>
<text x="536.3" y="487.5" text-anchor="middle" font-size="31" font-family="Liberation Serif, serif">0.5</text>
<line x1="619.8" y1="421.2" x2="619.8" y2="440.2" stroke="#484848" stroke-width="2.8"/>
<text x="619.8" y="487.5" text-anchor="middle" font-size="31" font-family="Liberation Serif, serif">0.6</text>
<line x1="703.3" y1="421.2" x2="703.3" y2="440.2" stroke="#484848" stroke-width="2.8"/>
<text x="703.3" y="487.5" text-anchor="middle" font-size="31" font-family="Liberation Serif, serif">0.7</text>
<line x1="786.8" y1="421.2" x2="786.8" y2="440.2" stroke="#484848" stroke-width="2.8"/>
<text x="786.8" y="487.5" text-anchor="middle" font-size="31" font-family="Liberation Serif, serif">0.8</text>
<line x1="105.0" y1="664.8" x2="788.0" y2="664.8" stroke="#484848" stroke-width="2.8"/>
<line x1="786.8" y1="664.8" x2="786.8" y2="1102.0" stroke="#484848" stroke-width="2.8"/>
<line x1="104.0" y1="1092.0" x2="786.8" y2="1092.0" stroke="#484848" stroke-width="2.8"/>
<line x1="115.0" y1="663.6" x2="115.0" y2="1102.5" stroke="#484848" stroke-width="2.6"/>
<line x1="104.0" y1="664.8" x2="124.0" y2="664.8" stroke="#484848" stroke-width="2.8"/>
<text x="93.0" y="675.8" text-anchor="end" font-size="31" font-family="Liberation Serif, serif">4.2</text>
<line x1="104.0" y1="736.0" x2="124.0" y2="736.0" stroke="#484848" stroke-width="2.8"/>
<text x="93.0" y="747.0" text-anchor="end" font-size="31" font-family="Liberation Serif, serif">4.0</text>
<line x1="104.0" y1="807.2" x2="124.0" y2="807.2" stroke="#484848" stroke-width="2.8"/>
<text x="93.0" y="818.2" text-anchor="end" font-size="31" font-family="Liberation Serif, serif">3.8</text>
<line x1="104.0" y1="878.4" x2="124.0" y2="878.4" stroke="#484848" stroke-width="2.8"/>
<text x="93.0" y="889.4" text-anchor="end" font-size="31" font-family="Liberation Serif, serif">3.6</text>
<line x1="104.0" y1="949.6" x2="124.0" y2="949.6" stroke="#484848" stroke-width="2.8"/>
<text x="93.0" y="960.6" text-anchor="end" font-size="31" font-family="Liberation Serif, serif">3.4</text>
<line x1="104.0" y1="1020.8" x2="124.0" y2="1020.8" stroke="#484848" stroke-width="2.8"/>
<text x="93.0" y="1031.8" text-anchor="end" font-size="31" font-family="Liberation Serif, serif">3.2</text>
<line x1="104.0" y1="1092.0" x2="124.0" y2="1092.0" stroke="#484848" stroke-width="2.8"/>
<text x="93.0" y="1103.0" text-anchor="end" font-size="31" font-family="Liberation Serif, serif">3.0</text>
<line x1="115.0" y1="1083.0" x2="115.0" y2="1102.0" stroke="#484848" stroke-width="2.8"/>
<text x="115.0" y="1148.5" text-anchor="middle" font-size="31" font-family="Liberation Serif, serif">0</text>
<line x1="199.0" y1="1083.0" x2="199.0" y2="1102.0" stroke="#484848" stroke-width="2.8"/>
<text x="199.0" y="1148.5" text-anchor="middle" font-size="31" font-family="Liberation Serif, serif">0.1</text>
<line x1="282.9" y1="1083.0" x2="282.9" y2="1102.0" stroke="#484848" stroke-width="2.8"/>
<text x="282.9" y="1148.5" text-anchor="middle" font-size="31" font-family="Liberation Serif, serif">0.2</text>
<line x1="366.9" y1="1083.0" x2="366.9" y2="1102.0" stroke="#484848" stroke-width="2.8"/>
<text x="366.9" y="1148.5" text-anchor="middle" font-size="31" font-family="Liberation Serif, serif">0.3</text>
<line x1="450.9" y1="1083.0" x2="450.9" y2="1102.0" stroke="#484848" stroke-width="2.8"/>
<text x="450.9" y="1148.5" text-anchor="middle" font-size="31" font-family="Liberation Serif, serif">0.4</text>
<line x1="534.9" y1="1083.0" x2="534.9" y2="1102.0" stroke="#484848" stroke-width="2.8"/>
<text x="534.9" y="1148.5" text-anchor="middle" font-size="31" font-family="Liberation Serif, serif">0.5</text>
<line x1="618.8" y1="1083.0" x2="618.8" y2="1102.0" stroke="#484848" stroke-width="2.8"/>
<text x="618.8" y="1148.5" text-anchor="middle" font-size="31" font-family="Liberation Serif, serif">0.6</text>
<line x1="702.8" y1="1083.0" x2="702.8" y2="1102.0" stroke="#484848" stroke-width="2.8"/>
<text x="702.8" y="1148.5" text-anchor="middle" font-size="31" font-family="Liberation Serif, serif">0.7</text>
<line x1="786.8" y1="1083.0" x2="786.8" y2="1102.0" stroke="#484848" stroke-width="2.8"/>
<text x="786.8" y="1148.5" text-anchor="middle" font-size="31" font-family="Liberation Serif, serif">0.8</text>
<line x1="147.0" y1="248.0" x2="228.5" y2="248.0" stroke="#999999" stroke-width="2.0"/>
<text x="234.5" y="258.5" font-size="31.5" font-family="Liberation Serif, serif">0</text>
<line x1="147.0" y1="279.2" x2="228.5" y2="279.2" stroke="#dd2a2e" stroke-width="3.0"/>
<text x="234.5" y="289.0" font-size="31.5" font-family="Liberation Serif, serif">300</text>
<line x1="147.0" y1="308.3" x2="228.5" y2="308.3" stroke="#2a2ad0" stroke-width="3.5" stroke-dasharray="5,7"/>
<text x="234.5" y="317.5" font-size="31.5" font-family="Liberation Serif, serif">750</text>
<line x1="147.0" y1="340.0" x2="228.5" y2="340.0" stroke="#e535ea" stroke-width="3.0"/>
<text x="234.5" y="349.0" font-size="31.5" font-family="Liberation Serif, serif">1500</text>
<line x1="147.0" y1="368.6" x2="228.5" y2="368.6" stroke="#2a862a" stroke-width="3.5" stroke-dasharray="15,6.5,4.4,7,4.4,7"/>
<text x="234.5" y="379.0" font-size="31.5" font-family="Liberation Serif, serif">3000</text>
<line x1="147.0" y1="401.0" x2="228.5" y2="401.0" stroke="#7d2430" stroke-width="2.8"/>
<text x="234.5" y="409.5" font-size="31.5" font-family="Liberation Serif, serif">5250</text>
<line x1="144.0" y1="919.2" x2="223.5" y2="919.2" stroke="#999999" stroke-width="2.0"/>
<text x="230.5" y="929.7" font-size="31.5" font-family="Liberation Serif, serif">0</text>
<line x1="144.0" y1="949.1" x2="223.5" y2="949.1" stroke="#dd2a2e" stroke-width="3.0"/>
<text x="230.5" y="958.7" font-size="31.5" font-family="Liberation Serif, serif">300</text>
<line x1="144.0" y1="977.7" x2="223.5" y2="977.7" stroke="#2a2ad0" stroke-width="3.5" stroke-dasharray="5,7"/>
<text x="230.5" y="987.0" font-size="31.5" font-family="Liberation Serif, serif">750</text>
<line x1="144.0" y1="1009.5" x2="223.5" y2="1009.5" stroke="#e535ea" stroke-width="3.0"/>
<text x="230.5" y="1018.0" font-size="31.5" font-family="Liberation Serif, serif">1500</text>
<line x1="144.0" y1="1037.7" x2="223.5" y2="1037.7" stroke="#2a862a" stroke-width="3.5" stroke-dasharray="15,6.5,4.4,7,4.4,7"/>
<text x="230.5" y="1048.0" font-size="31.5" font-family="Liberation Serif, serif">3000</text>
<line x1="144.0" y1="1067.9" x2="223.5" y2="1067.9" stroke="#7d2430" stroke-width="2.8"/>
<text x="230.5" y="1077.5" font-size="31.5" font-family="Liberation Serif, serif">5250</text>
<text x="379.5" y="71.5" font-size="33" font-family="Liberation Serif, serif" font-weight="bold">50<tspan dy="-18.5" font-size="21">o</tspan><tspan dy="18.5">C</tspan></text>
<text x="370" y="724.5" font-size="33" font-family="Liberation Serif, serif" font-weight="bold">-10<tspan dy="-18.5" font-size="21">o</tspan><tspan dy="18.5">C</tspan></text>
<text x="610" y="169" font-size="30" font-family="Liberation Serif, serif" font-weight="bold">Increasing</text>
<text x="638.5" y="210.3" font-size="30" font-family="Liberation Serif, serif" font-weight="bold">cycles</text>
<text x="505.3" y="862.7" font-size="30" font-family="Liberation Serif, serif" font-weight="bold">Increasing</text>
<text x="534" y="902.9" font-size="30" font-family="Liberation Serif, serif" font-weight="bold">cycles</text>
<line x1="673.4" y1="233.5" x2="615.4" y2="317.1" stroke="#000" stroke-width="3"/>
<polygon points="608.6,327.0 613.3,313.2 619.9,317.8" fill="#000"/>
<line x1="537.0" y1="915.5" x2="497.0" y2="995.6" stroke="#000" stroke-width="3"/>
<polygon points="491.6,1006.3 494.3,992.0 501.4,995.6" fill="#000"/>
<text x="453.5" y="545.6" text-anchor="middle" font-size="30.5" font-family="Liberation Serif, serif" font-weight="bold">Discharge Capacity (A h)</text>
<text x="453" y="1205.8" text-anchor="middle" font-size="30.5" font-family="Liberation Serif, serif" font-weight="bold">Discharge Capacity (A h)</text>
<text transform="translate(25,218.5) rotate(-90)" text-anchor="middle" font-size="31.5" font-family="Liberation Serif, serif" font-weight="bold">Cell Voltage (V)</text>
<text transform="translate(22.5,874.2) rotate(-90)" text-anchor="middle" font-size="31.5" font-family="Liberation Serif, serif" font-weight="bold">Cell Voltage (V)</text>
<text x="403.5" y="610.5" text-anchor="middle" font-size="32" font-family="Liberation Serif, serif">(a)</text>
<text x="404" y="1273.5" text-anchor="middle" font-size="32" font-family="Liberation Serif, serif">(b)</text>
</svg>
</body></html>
